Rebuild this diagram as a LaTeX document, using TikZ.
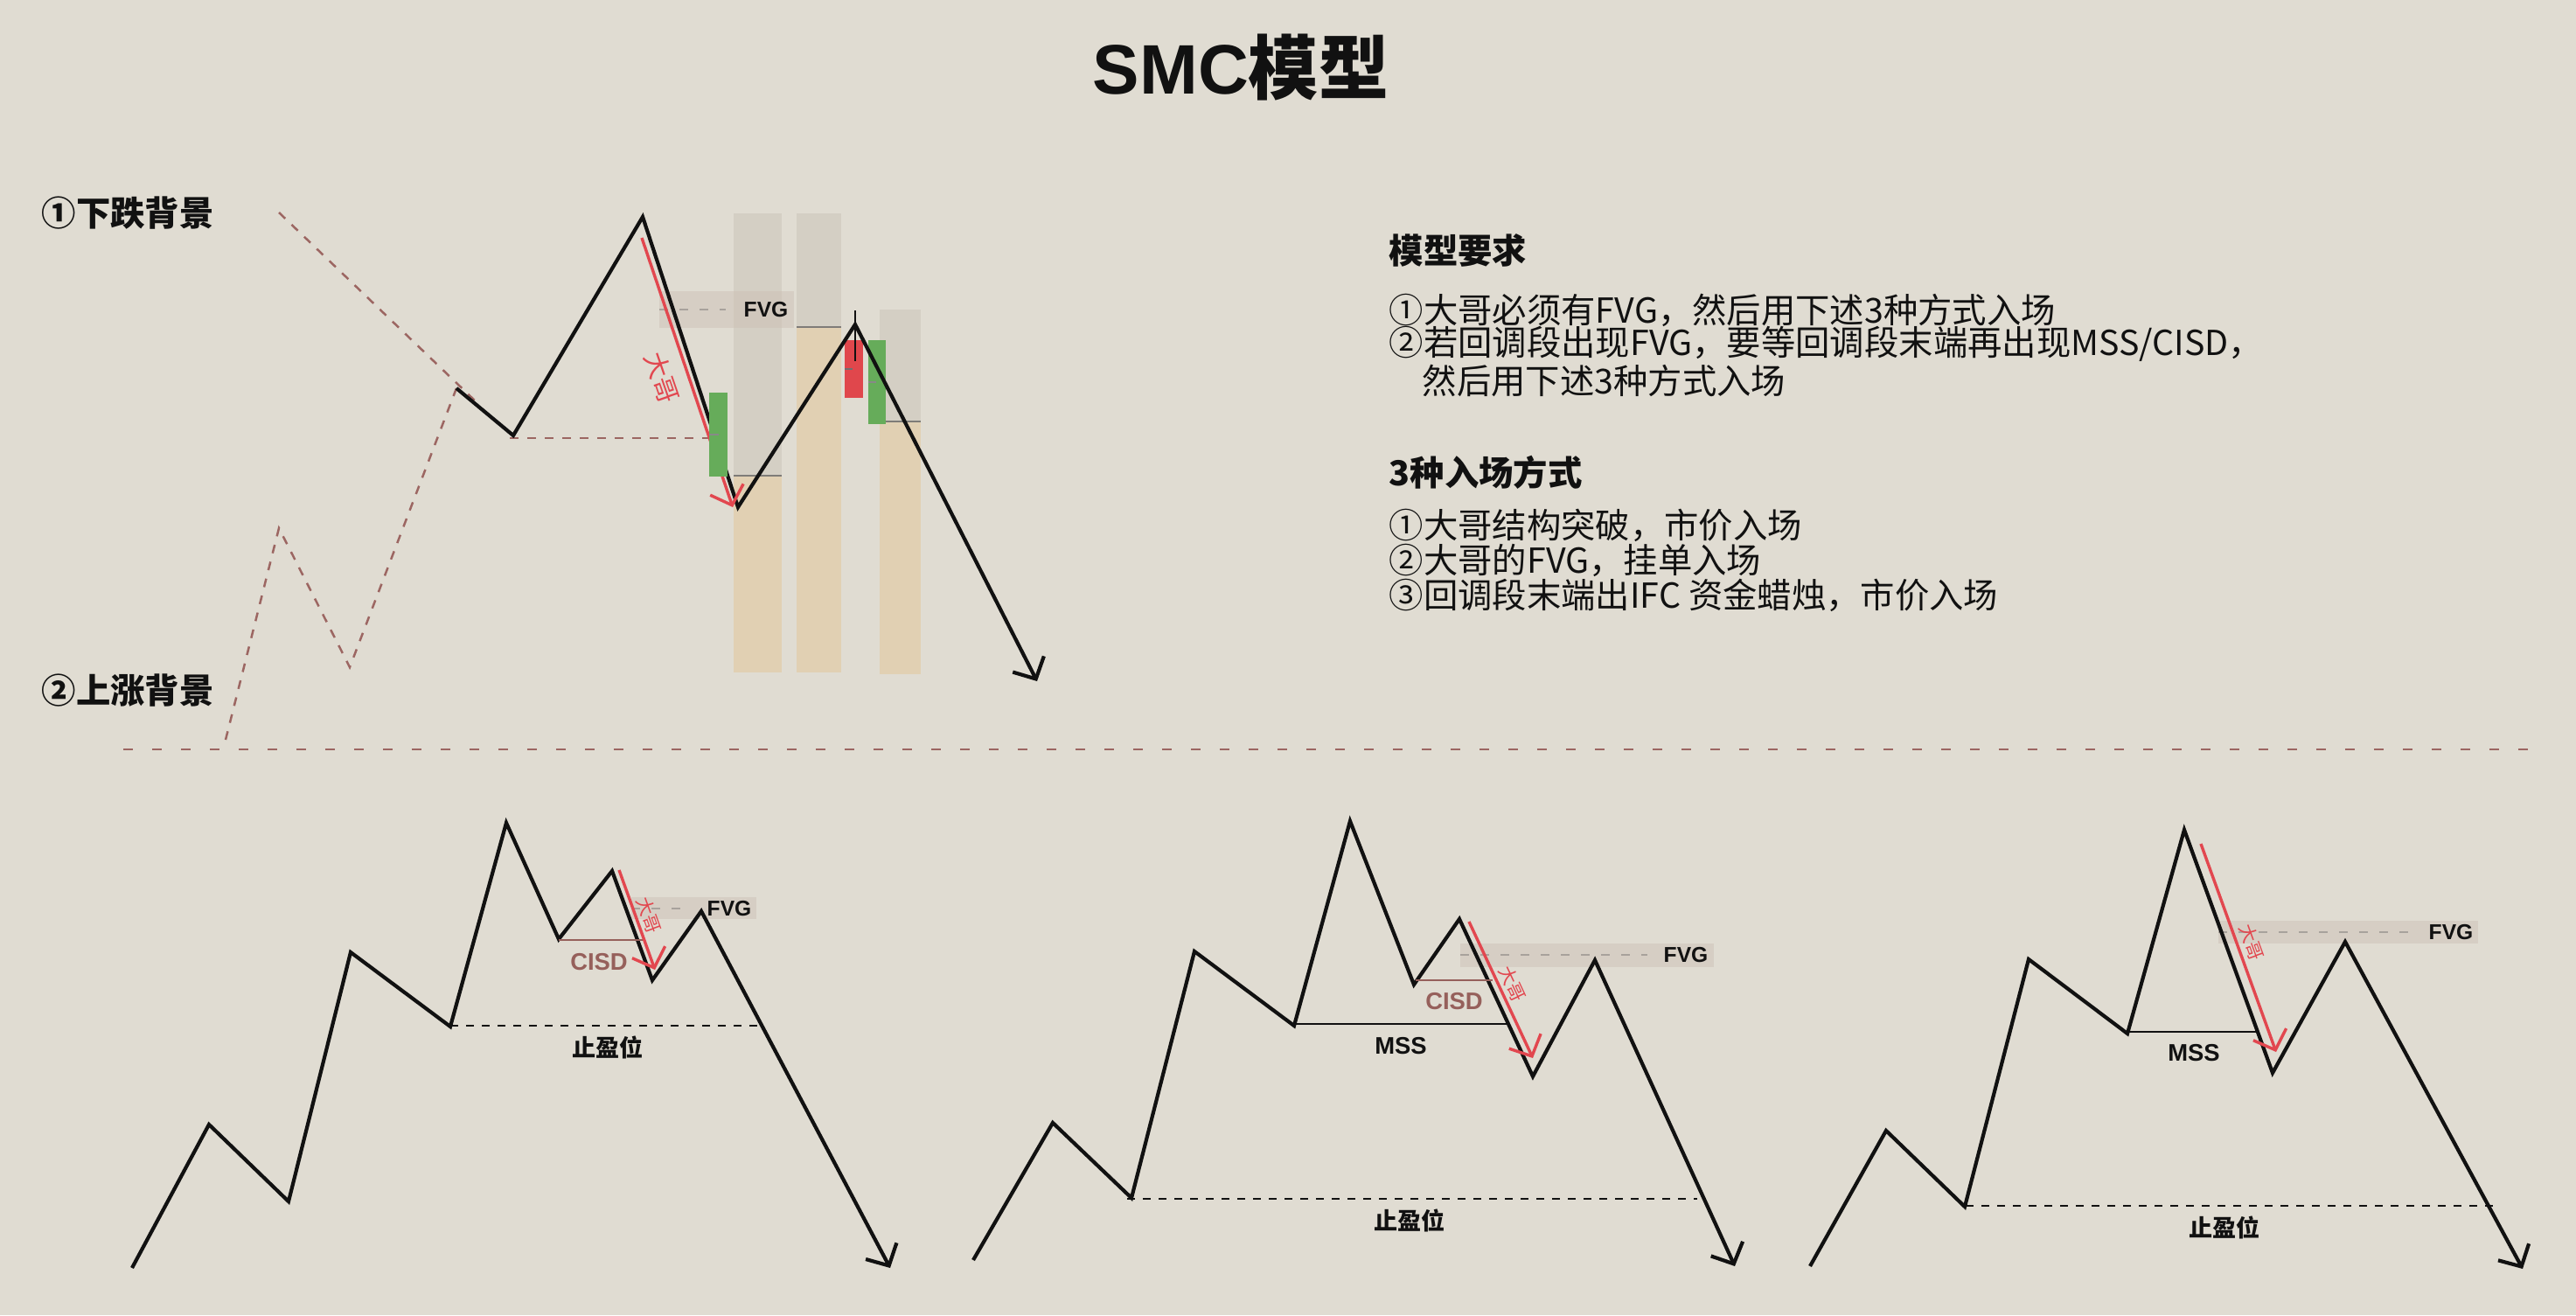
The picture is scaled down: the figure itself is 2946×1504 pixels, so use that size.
\documentclass[tikz,border=0pt]{standalone}
\usepackage{fontspec}
\setmainfont{Noto Sans CJK SC}
\newfontfamily\arialfont{Liberation Sans}
\usetikzlibrary{arrows.meta}
\definecolor{paper}{HTML}{E0DCD2}
\definecolor{ink}{HTML}{111111}
\definecolor{bigred}{HTML}{E2474F}
\definecolor{rust}{HTML}{9C6662}
\definecolor{cisdbrown}{HTML}{96605B}
\definecolor{colgray}{HTML}{D4CFC4}
\definecolor{coltan}{HTML}{E1D0B3}
\definecolor{fvgfill}{HTML}{CCBEB4}
\definecolor{fvgline}{HTML}{A8A29C}
\definecolor{sepgray}{HTML}{7E7C78}
\definecolor{candlegreen}{HTML}{66AC5A}
\definecolor{candlered}{HTML}{E0474C}
\tikzset{
  price/.style={draw=ink,line width=.42mm,-{Straight Barb[length=1.9mm,width=4mm]}},
  bigarrow/.style={draw=bigred,line width=.34mm,-{Straight Barb[length=1.9mm,width=4mm]}},
  bgdash/.style={draw=rust,line width=.25mm,dash pattern=on 1mm off 1mm},
  sepdash/.style={draw=rust,line width=.22mm,dash pattern=on 1.1mm off 2.2mm},
  tpdash/.style={draw=ink,line width=.24mm,dash pattern=on .85mm off .95mm},
  level/.style={line width=.24mm},
  fvgbox/.style={fill=fvgfill,fill opacity=.45},
  fvgdash/.style={draw=fvgline,line width=.22mm,dash pattern=on 1mm off 1.3mm},
  fvgtag/.style={font=\arialfont\bfseries\fontsize{7}{8}\selectfont,text=ink,inner sep=0},
  tagtext/.style={font=\arialfont\bfseries\fontsize{7.8}{9}\selectfont,inner sep=0},
  dagetext/.style={text=bigred,inner sep=0},
  bodytext/.style={font=\fontsize{11.2}{13}\selectfont,anchor=west,inner sep=0,text=ink},
  headtext/.style={bodytext,font=\fontsize{11.2}{13}\selectfont\bfseries},
  sidelabel/.style={bodytext,font=\fontsize{11.2}{13}\selectfont\bfseries},
  cjktag/.style={font=\fontsize{7.7}{9}\selectfont\bfseries,inner sep=0,text=ink}}
\begin{document}
\begin{tikzpicture}[x=.1mm,y=-.1mm]
\fill[paper] (0,0) rectangle (2946,1504);
\useasboundingbox (0,0) rectangle (2946,1504);
\node[font=\fontsize{22.8}{26}\selectfont\bfseries,text=ink,inner sep=0] (title) at (1419,77) {{\arialfont SMC}模型};
% left labels and background legs
\node[sidelabel] (down) at (47,244) {①下跌背景};
\node[sidelabel] (up) at (47,790) {②上涨背景};
\draw[bgdash] (319,243) -- (545,460);
\draw[bgdash] (258,846) -- (319,604) -- (400,763) -- (522,444);
\draw[sepdash] (141,857) -- (2894,857);
% top panel: zones and candles
\foreach \xa/\xb/\ys/\yt/\yb in {839/894/544/244/769,911/962/374/244/769,1006/1053/482/354/771}{
  \fill[colgray] (\xa,\yt) rectangle (\xb,\ys);
  \fill[coltan] (\xa,\ys) rectangle (\xb,\yb);
  \draw[sepgray,line width=.2mm] (\xa,\ys) -- (\xb,\ys);}
\fill[fvgbox] (754,333) rectangle (908,375);
\node[fvgtag] (fvgtop) at (876,354) {FVG};
\draw[fvgdash,shorten >=2mm] (754,354) -- (fvgtop.west);
\draw[bgdash] (583,501) -- (810,501);
\fill[candlered] (966,389) rectangle (987,455);
\draw[ink!60,line width=.2mm] (966,422) -- (975,422);
\fill[candlegreen] (993,389) rectangle (1013,485);
\draw[ink!50,line width=.2mm] (993,437) -- (1002,437);
\draw[price] (522,444) -- (587,498) -- (735,248) -- (844,580) -- (978,371) -- (1186,779);
\draw[bigarrow] (734,272) -- (838,580);
\node[dagetext,font=\fontsize{8.5}{9}\selectfont,rotate=-71] (dagetop) at (757,432) {大哥};
\fill[candlegreen] (811,449) rectangle (832,545);
\draw[ink!50,line width=.2mm] (811,497) -- (822,497);
\draw[ink,line width=.15mm] (978,355) -- (978,413);
% right text block
\node[headtext] (req) at (1588,286) {模型要求};
\node[bodytext] (req1) at (1588,355) {①大哥必须有FVG，然后用下述3种方式入场};
\node[bodytext] (req2) at (1588,393) {②若回调段出现FVG，要等回调段末端再出现MSS/CISD，};
\node[bodytext] (req3) at (1626,435) {然后用下述3种方式入场};
\node[headtext] (ways) at (1588,540) {3种入场方式};
\node[bodytext] (way1) at (1588,601) {①大哥结构突破，市价入场};
\node[bodytext] (way2) at (1588,641) {②大哥的FVG，挂单入场};
\node[bodytext] (way3) at (1588,681) {③回调段末端出IFC 资金蜡烛，市价入场};
% bottom panels
\foreach \xl/\xr/\yt/\yb/\yl/\xt/\n in {722/865/1026/1051/1039/834/a,1670/1960/1079/1106/1092/1928/b,2537/2834/1053/1079/1066/2803/c}{
  \fill[fvgbox] (\xl,\yt) rectangle (\xr,\yb);
  \node[fvgtag] (fvg\n) at (\xt,\yl) {FVG};
  \draw[fvgdash,shorten >=1.8mm] (\xl,\yl) -- (fvg\n.west);}
\foreach \xa/\xb/\yy/\xl/\n in {515/872/1173/695/a,1289/1941/1371/1612/b,2248/2852/1379/2544/c}{
  \draw[tpdash] (\xa,\yy) -- (\xb,\yy);
  \node[cjktag] (tp\n) at (\xl,\yy+25) {止盈位};}
\draw[price] (151,1450) -- (239,1286) -- (330,1374) -- (401,1089) -- (515,1174) -- (579,941)
  -- (639,1074) -- (700,996) -- (746,1121) -- (802,1042) -- (1018,1450);
\draw[cisdbrown,level] (639,1075) -- (735,1075);
\node[tagtext,text=cisdbrown] (cisda) at (685,1100) {CISD};
\draw[bigarrow] (708,995) -- (749,1109);
\node[dagetext,font=\fontsize{6}{7}\selectfont,rotate=-70] (dagea) at (742,1047) {大哥};
\draw[price] (1113,1441) -- (1204,1284) -- (1294,1370) -- (1366,1088) -- (1480,1173) -- (1544,939)
  -- (1617,1126) -- (1669,1051) -- (1753,1231) -- (1824,1098) -- (1984,1448);
\draw[cisdbrown,level] (1619,1121) -- (1707,1121);
\node[tagtext,text=cisdbrown] (cisdb) at (1663,1145) {CISD};
\draw[ink,level] (1480,1171) -- (1724,1171);
\node[tagtext,text=ink] (mssb) at (1602,1196) {MSS};
\draw[bigarrow] (1680,1054) -- (1753,1210);
\node[dagetext,font=\fontsize{6}{7}\selectfont,rotate=-65] (dageb) at (1730,1125) {大哥};
\draw[price] (2070,1448) -- (2157,1293) -- (2247,1380) -- (2320,1097) -- (2433,1182) -- (2498,949)
  -- (2599,1227) -- (2682,1077) -- (2885,1451);
\draw[ink,level] (2433,1180) -- (2583,1180);
\node[tagtext,text=ink] (mssc) at (2509,1204) {MSS};
\draw[bigarrow] (2517,965) -- (2603,1203);
\node[dagetext,font=\fontsize{6}{7}\selectfont,rotate=-70] (dagec) at (2575,1078) {大哥};
\end{tikzpicture}
\end{document}
